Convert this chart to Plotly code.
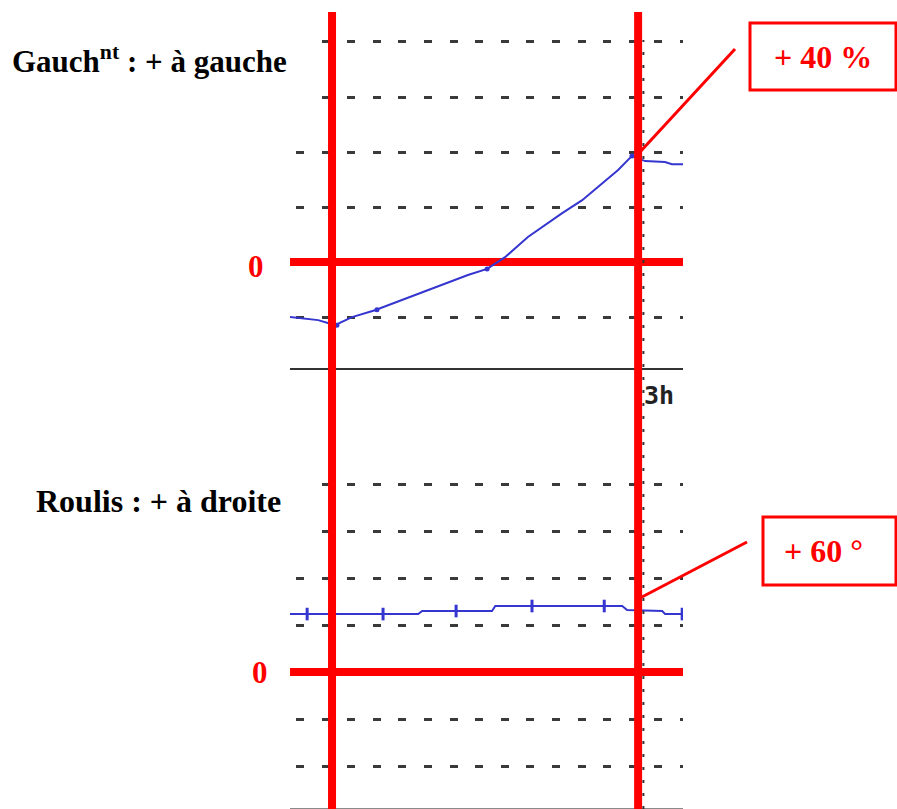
import plotly.graph_objects as go

# time axis: arbitrary units, left red marker at t=0, "3h" marker at t=75
GAUCH_T = [-10.3, -3.4, 0.7, 4.9, 10.5, 17.2, 25.2, 33.3, 38.0, 42.4, 48.0,
           56.4, 61.3, 70.1, 73.5, 76.7, 81.6, 83.3, 86.0]
GAUCH_PCT = [-20.0, -21.1, -22.9, -20.0, -17.5, -13.8, -9.1, -4.7, -2.5, 1.8,
             9.1, 17.8, 22.5, 33.5, 38.6, 36.7, 36.4, 35.6, 35.6]
GAUCH_MARK_T = [1.2, 11.0, 38.0, 73.5]
GAUCH_MARK_PCT = [-23.0, -17.3, -2.5, 38.6]

ROULIS_T = [-10.3, 21.1, 22.1, 39.2, 40.0, 71.1, 72.3, 80.9, 81.6, 86.0]
ROULIS_DEG = [55.5, 55.5, 58.4, 58.4, 63.2, 63.2, 59.4, 58.4, 55.5, 55.5]
ROULIS_MARK_T = [-6.1, 12.5, 30.4, 49.0, 66.7, 85.8]
ROULIS_MARK_DEG = [55.5, 55.5, 58.4, 63.2, 63.2, 55.5]

GAUCH_GRID = [-20, 0, 20, 40, 60, 80]
ROULIS_GRID = [-90, -45, 0, 45, 90, 135, 180]
MARKER_T = [0, 75]          # the two red time markers
DOTTED_T = 76.3             # recorder's own 3h line

W, H = 897, 809
BLUE = "#3535d0"
RED = "#ff0000"
GRID = "#3a3a3a"
SERIF = "Liberation Serif, Times New Roman, serif"


def px(x):
    return x / W


def py(y):
    return 1 - y / H


fig = go.Figure()
fig.add_trace(go.Scatter(x=GAUCH_T, y=GAUCH_PCT, mode="lines",
                         line=dict(color=BLUE, width=2), xaxis="x", yaxis="y"))
fig.add_trace(go.Scatter(x=GAUCH_MARK_T, y=GAUCH_MARK_PCT, mode="markers",
                         marker=dict(color=BLUE, size=5), xaxis="x", yaxis="y"))
fig.add_trace(go.Scatter(x=ROULIS_T, y=ROULIS_DEG, mode="lines",
                         line=dict(color=BLUE, width=2), xaxis="x2", yaxis="y2"))
fig.add_trace(go.Scatter(x=ROULIS_MARK_T, y=ROULIS_MARK_DEG, mode="markers",
                         marker=dict(symbol="line-ns", size=9,
                                     line=dict(color=BLUE, width=3)),
                         xaxis="x2", yaxis="y2"))

xdom = [px(290), px(683)]
xrange = [-10.3, 86.0]
grid_dash = "0px,6px,8px,11.6px"
axis_common = dict(showticklabels=False, ticks="", zeroline=False,
                   showgrid=False, range=xrange, domain=xdom, fixedrange=True)
fig.update_layout(
    width=W, height=H, showlegend=False,
    margin=dict(l=0, r=0, t=0, b=0),
    paper_bgcolor="white", plot_bgcolor="white",
    xaxis=dict(**axis_common, anchor="y", showline=True,
               linecolor="#333333", linewidth=2),
    xaxis2=dict(**axis_common, anchor="y2", showline=True,
                linecolor="#8a8a8a", linewidth=2),
    yaxis=dict(domain=[py(368), py(12)], range=[-38.5, 90.9],
               tickvals=GAUCH_GRID, showticklabels=False, ticks="",
               showgrid=True, gridcolor=GRID, gridwidth=3, griddash=grid_dash,
               zeroline=True, zerolinecolor=RED, zerolinewidth=8),
    yaxis2=dict(domain=[py(808), py(368)], range=[-130.2, 291.1],
                tickvals=ROULIS_GRID, showticklabels=False, ticks="",
                showgrid=True, gridcolor=GRID, gridwidth=3, griddash=grid_dash,
                zeroline=True, zerolinecolor=RED, zerolinewidth=8),
)

shapes = []
# white label boxes cut into the top-left of each panel
for y0, y1 in [(0, 120), (440, 555)]:
    shapes.append(dict(type="rect", xref="paper", yref="paper",
                       x0=px(288), x1=px(318), y0=py(y1), y1=py(y0),
                       fillcolor="white", line=dict(width=0), layer="above"))
shapes.append(dict(type="line", xref="x", yref="paper", x0=DOTTED_T,
                   x1=DOTTED_T, y0=0, y1=py(40),
                   line=dict(color="#333333", width=2, dash="3px,10px")))
for t in MARKER_T:
    shapes.append(dict(type="line", xref="x", yref="paper", x0=t, x1=t,
                       y0=0, y1=py(12), line=dict(color=RED, width=8),
                       layer="above"))
# callout boxes and leader lines
for (x0, y0, x1, y1) in [(750, 23, 896, 90), (763, 517, 896, 585)]:
    shapes.append(dict(type="rect", xref="paper", yref="paper",
                       x0=px(x0), x1=px(x1), y0=py(y1), y1=py(y0),
                       line=dict(color=RED, width=3), fillcolor="white"))
for (x0, y0, x1, y1) in [(640, 152, 735, 49), (640, 598, 747, 542)]:
    shapes.append(dict(type="line", xref="paper", yref="paper",
                       x0=px(x0), x1=px(x1), y0=py(y0), y1=py(y1),
                       line=dict(color=RED, width=3)))
fig.update_layout(shapes=shapes)


def label(text, x, y, size, color="black", xanchor="left", family=SERIF):
    fig.add_annotation(text=text, x=px(x), y=py(y), xref="paper",
                       yref="paper", xanchor=xanchor, yanchor="middle",
                       showarrow=False,
                       font=dict(family=family, size=size, color=color))


label("<b>Gauch<sup>nt</sup> : + à gauche</b>", 10, 60, 31)
label("<b>Roulis : + à droite</b>", 34, 501, 32)
label("<b>0</b>", 256, 266, 31, RED, "center")
label("<b>0</b>", 260, 672, 31, RED, "center")
label("<b>+ 40 %</b>", 823, 57, 32, RED, "center")
label("<b>+ 60 °</b>", 823, 551, 32, RED, "center")
label("<b>3h</b>", 642, 396, 25, "#222222", "left",
      "DejaVu Sans Mono, monospace")

# the default page keeps an 8px body margin; drop it so pixels line up
fig.write_html("out.html", config={"displayModeBar": False},
               post_script="document.body.style.margin='0';")
